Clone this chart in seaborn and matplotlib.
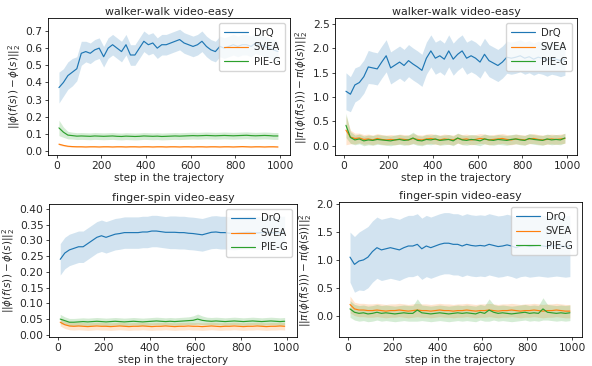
"""2x2 grid: representation / policy distance under video-easy distraction."""

import matplotlib
matplotlib.use('Agg')
import matplotlib.pyplot as plt
import numpy as np
import pandas as pd
import seaborn as sns

# ── Data ──────────────────────────────────────────────────────────────────
STEPS = list(range(10, 1000, 20))
METHODS = ['DrQ', 'SVEA', 'PIE-G']
COLORS = ['#1f77b4', '#ff7f0e', '#2ca02c']

# walker-walk, ||phi(f(s)) - phi(s)||
ww_phi_drq = [0.37, 0.40, 0.44, 0.46, 0.48, 0.57, 0.58, 0.57, 0.59, 0.60,
              0.55, 0.60, 0.62, 0.60, 0.58, 0.62, 0.56, 0.56, 0.60, 0.64,
              0.62, 0.63, 0.60, 0.62, 0.62, 0.63, 0.64, 0.65, 0.63, 0.62,
              0.61, 0.62, 0.64, 0.61, 0.59, 0.58, 0.61, 0.60, 0.61, 0.62,
              0.61, 0.62, 0.62, 0.61, 0.63, 0.62, 0.61, 0.60, 0.59, 0.58]
ww_phi_drq_sd = [0.09, 0.08, 0.08, 0.08, 0.07, 0.07, 0.06, 0.06, 0.06, 0.06,
                 0.06, 0.06, 0.06, 0.06, 0.06, 0.06, 0.06, 0.06, 0.06, 0.06,
                 0.06, 0.06, 0.06, 0.06, 0.06, 0.06, 0.06, 0.06, 0.06, 0.06,
                 0.06, 0.06, 0.06, 0.06, 0.06, 0.06, 0.06, 0.06, 0.06, 0.06,
                 0.06, 0.06, 0.06, 0.06, 0.06, 0.06, 0.06, 0.06, 0.06, 0.06]
ww_phi_svea = [0.040, 0.033, 0.028, 0.026, 0.025, 0.025, 0.024, 0.025, 0.025, 0.024,
               0.025, 0.025, 0.024, 0.025, 0.025, 0.024, 0.025, 0.025, 0.024, 0.025,
               0.025, 0.024, 0.025, 0.025, 0.024, 0.025, 0.025, 0.024, 0.025, 0.025,
               0.024, 0.025, 0.025, 0.024, 0.025, 0.025, 0.024, 0.025, 0.025, 0.024,
               0.025, 0.026, 0.025, 0.024, 0.025, 0.025, 0.024, 0.025, 0.025, 0.024]
ww_phi_svea_sd = [0.006, 0.005, 0.004, 0.004, 0.004, 0.004, 0.004, 0.004, 0.004, 0.004,
                  0.004, 0.004, 0.004, 0.004, 0.004, 0.004, 0.004, 0.004, 0.004, 0.004,
                  0.004, 0.004, 0.004, 0.004, 0.004, 0.004, 0.004, 0.004, 0.004, 0.004,
                  0.004, 0.004, 0.004, 0.004, 0.004, 0.004, 0.004, 0.004, 0.004, 0.004,
                  0.004, 0.004, 0.004, 0.004, 0.004, 0.004, 0.004, 0.004, 0.004, 0.004]
ww_phi_pieg = [0.135, 0.110, 0.093, 0.090, 0.087, 0.088, 0.087, 0.086, 0.088, 0.087,
               0.086, 0.087, 0.088, 0.086, 0.085, 0.087, 0.086, 0.085, 0.086, 0.088,
               0.087, 0.086, 0.087, 0.085, 0.086, 0.087, 0.088, 0.087, 0.088, 0.089,
               0.090, 0.089, 0.090, 0.091, 0.090, 0.089, 0.090, 0.091, 0.090, 0.089,
               0.090, 0.091, 0.092, 0.090, 0.089, 0.090, 0.091, 0.090, 0.088, 0.088]
ww_phi_pieg_sd = [0.045, 0.030, 0.022, 0.020, 0.020, 0.020, 0.020, 0.020, 0.020, 0.020,
                  0.020, 0.020, 0.020, 0.020, 0.020, 0.020, 0.020, 0.020, 0.020, 0.020,
                  0.020, 0.020, 0.020, 0.020, 0.020, 0.020, 0.020, 0.020, 0.020, 0.020,
                  0.020, 0.020, 0.020, 0.020, 0.020, 0.020, 0.020, 0.020, 0.020, 0.020,
                  0.020, 0.020, 0.020, 0.020, 0.020, 0.020, 0.020, 0.020, 0.020, 0.020]

# walker-walk, ||pi(phi(f(s))) - pi(phi(s))||
ww_pi_drq = [1.12, 1.06, 1.25, 1.30, 1.42, 1.62, 1.60, 1.58, 1.72, 1.85,
             1.60, 1.66, 1.72, 1.65, 1.75, 1.68, 1.62, 1.55, 1.80, 1.95,
             1.80, 1.85, 1.78, 1.95, 1.78, 1.88, 1.95, 1.80, 1.85, 1.80,
             1.72, 1.88, 1.75, 1.70, 1.65, 1.72, 1.82, 1.80, 1.82, 1.85,
             1.80, 1.83, 1.78, 1.82, 1.80, 1.76, 1.80, 1.78, 1.75, 1.78]
ww_pi_drq_sd = [0.38, 0.36, 0.35, 0.34, 0.34, 0.34, 0.33, 0.33, 0.33, 0.33,
                0.33, 0.33, 0.33, 0.33, 0.33, 0.33, 0.33, 0.33, 0.33, 0.33,
                0.33, 0.33, 0.33, 0.33, 0.33, 0.33, 0.33, 0.33, 0.33, 0.33,
                0.33, 0.33, 0.33, 0.33, 0.33, 0.33, 0.33, 0.33, 0.33, 0.33,
                0.33, 0.33, 0.33, 0.33, 0.33, 0.33, 0.33, 0.33, 0.33, 0.33]
ww_pi_svea = [0.32, 0.18, 0.15, 0.16, 0.13, 0.14, 0.12, 0.15, 0.13, 0.12,
              0.13, 0.12, 0.14, 0.13, 0.12, 0.15, 0.13, 0.12, 0.14, 0.15,
              0.13, 0.12, 0.14, 0.13, 0.12, 0.15, 0.13, 0.14, 0.12, 0.13,
              0.15, 0.14, 0.12, 0.13, 0.14, 0.15, 0.13, 0.12, 0.14, 0.13,
              0.12, 0.14, 0.15, 0.13, 0.12, 0.13, 0.14, 0.13, 0.14, 0.15]
ww_pi_svea_sd = [0.30, 0.14, 0.11, 0.10, 0.10, 0.10, 0.10, 0.10, 0.10, 0.10,
                 0.10, 0.10, 0.10, 0.10, 0.10, 0.10, 0.10, 0.10, 0.10, 0.10,
                 0.10, 0.10, 0.10, 0.10, 0.10, 0.10, 0.10, 0.10, 0.10, 0.10,
                 0.10, 0.10, 0.10, 0.10, 0.10, 0.10, 0.10, 0.10, 0.10, 0.10,
                 0.10, 0.10, 0.10, 0.10, 0.10, 0.10, 0.10, 0.10, 0.10, 0.10]
ww_pi_pieg = [0.42, 0.17, 0.12, 0.14, 0.10, 0.12, 0.11, 0.13, 0.12, 0.11,
              0.10, 0.12, 0.13, 0.11, 0.12, 0.16, 0.11, 0.10, 0.13, 0.12,
              0.14, 0.11, 0.12, 0.13, 0.10, 0.16, 0.12, 0.11, 0.13, 0.12,
              0.10, 0.14, 0.12, 0.11, 0.13, 0.12, 0.11, 0.13, 0.14, 0.12,
              0.11, 0.15, 0.13, 0.12, 0.11, 0.14, 0.12, 0.13, 0.12, 0.16]
ww_pi_pieg_sd = [0.25, 0.12, 0.10, 0.10, 0.10, 0.10, 0.10, 0.10, 0.10, 0.10,
                 0.10, 0.10, 0.10, 0.10, 0.10, 0.12, 0.10, 0.10, 0.10, 0.10,
                 0.10, 0.10, 0.10, 0.10, 0.10, 0.10, 0.10, 0.10, 0.10, 0.10,
                 0.10, 0.10, 0.10, 0.10, 0.10, 0.10, 0.10, 0.10, 0.10, 0.10,
                 0.10, 0.10, 0.10, 0.10, 0.10, 0.10, 0.10, 0.10, 0.10, 0.10]

# finger-spin, ||phi(f(s)) - phi(s)||
fs_phi_drq = [0.240, 0.260, 0.270, 0.275, 0.280, 0.280, 0.290, 0.300, 0.310, 0.315,
              0.310, 0.315, 0.320, 0.322, 0.325, 0.325, 0.325, 0.325, 0.327, 0.327,
              0.330, 0.330, 0.328, 0.326, 0.326, 0.326, 0.325, 0.325, 0.323, 0.322,
              0.320, 0.318, 0.322, 0.326, 0.327, 0.325, 0.325, 0.323, 0.322, 0.324,
              0.325, 0.326, 0.325, 0.324, 0.325, 0.326, 0.325, 0.324, 0.325, 0.325]
fs_phi_drq_sd = [0.050, 0.050, 0.050, 0.050, 0.050, 0.050, 0.050, 0.050, 0.050, 0.050,
                 0.050, 0.050, 0.050, 0.050, 0.050, 0.050, 0.050, 0.050, 0.050, 0.050,
                 0.050, 0.050, 0.050, 0.050, 0.052, 0.052, 0.052, 0.052, 0.052, 0.052,
                 0.052, 0.052, 0.052, 0.052, 0.052, 0.052, 0.052, 0.052, 0.052, 0.052,
                 0.052, 0.052, 0.052, 0.052, 0.052, 0.052, 0.052, 0.052, 0.052, 0.052]
fs_phi_svea = [0.040, 0.032, 0.028, 0.027, 0.028, 0.027, 0.026, 0.027, 0.028, 0.027,
               0.027, 0.026, 0.027, 0.028, 0.027, 0.026, 0.027, 0.027, 0.028, 0.027,
               0.026, 0.027, 0.027, 0.028, 0.027, 0.026, 0.027, 0.027, 0.028, 0.027,
               0.027, 0.026, 0.027, 0.028, 0.027, 0.026, 0.027, 0.027, 0.028, 0.027,
               0.026, 0.027, 0.027, 0.028, 0.027, 0.026, 0.027, 0.027, 0.028, 0.027]
fs_phi_svea_sd = [0.012, 0.012, 0.012, 0.012, 0.012, 0.012, 0.012, 0.012, 0.012, 0.012,
                  0.012, 0.012, 0.012, 0.012, 0.012, 0.012, 0.012, 0.012, 0.012, 0.012,
                  0.012, 0.012, 0.012, 0.012, 0.012, 0.012, 0.012, 0.012, 0.012, 0.012,
                  0.012, 0.012, 0.012, 0.012, 0.012, 0.012, 0.012, 0.012, 0.012, 0.012,
                  0.012, 0.012, 0.012, 0.012, 0.012, 0.012, 0.012, 0.012, 0.012, 0.012]
fs_phi_pieg = [0.050, 0.045, 0.040, 0.040, 0.041, 0.042, 0.041, 0.042, 0.043, 0.042,
               0.041, 0.042, 0.043, 0.042, 0.041, 0.042, 0.043, 0.042, 0.041, 0.042,
               0.043, 0.044, 0.043, 0.042, 0.043, 0.042, 0.043, 0.044, 0.045, 0.046,
               0.050, 0.046, 0.044, 0.043, 0.044, 0.043, 0.042, 0.043, 0.044, 0.043,
               0.042, 0.043, 0.044, 0.043, 0.042, 0.043, 0.044, 0.043, 0.042, 0.043]
fs_phi_pieg_sd = [0.015, 0.012, 0.012, 0.012, 0.012, 0.012, 0.012, 0.012, 0.012, 0.012,
                  0.012, 0.012, 0.012, 0.012, 0.012, 0.012, 0.012, 0.012, 0.012, 0.012,
                  0.012, 0.012, 0.012, 0.012, 0.012, 0.012, 0.012, 0.012, 0.012, 0.014,
                  0.016, 0.014, 0.012, 0.012, 0.012, 0.012, 0.012, 0.012, 0.012, 0.012,
                  0.012, 0.012, 0.012, 0.012, 0.012, 0.012, 0.012, 0.012, 0.012, 0.012]

# finger-spin, ||pi(phi(f(s))) - pi(phi(s))||
fs_pi_drq = [1.05, 0.92, 0.98, 1.00, 1.05, 1.15, 1.22, 1.18, 1.20, 1.22,
             1.20, 1.18, 1.22, 1.25, 1.25, 1.28, 1.20, 1.25, 1.22, 1.25,
             1.28, 1.30, 1.30, 1.28, 1.28, 1.25, 1.28, 1.26, 1.25, 1.26,
             1.25, 1.28, 1.26, 1.24, 1.25, 1.27, 1.25, 1.22, 1.25, 1.26,
             1.24, 1.25, 1.26, 1.25, 1.24, 1.25, 1.26, 1.25, 1.24, 1.25]
fs_pi_drq_sd = [0.45, 0.50, 0.52, 0.55, 0.55, 0.55, 0.55, 0.55, 0.55, 0.55,
                0.55, 0.55, 0.55, 0.55, 0.55, 0.55, 0.55, 0.55, 0.55, 0.55,
                0.55, 0.55, 0.55, 0.55, 0.55, 0.55, 0.55, 0.55, 0.55, 0.55,
                0.55, 0.55, 0.55, 0.55, 0.55, 0.55, 0.55, 0.55, 0.55, 0.55,
                0.55, 0.55, 0.55, 0.55, 0.55, 0.55, 0.55, 0.55, 0.55, 0.55]
fs_pi_svea = [0.20, 0.12, 0.10, 0.10, 0.09, 0.09, 0.10, 0.09, 0.08, 0.09,
              0.09, 0.10, 0.09, 0.08, 0.09, 0.10, 0.09, 0.09, 0.08, 0.09,
              0.10, 0.09, 0.09, 0.08, 0.09, 0.09, 0.10, 0.09, 0.08, 0.09,
              0.09, 0.10, 0.09, 0.08, 0.09, 0.09, 0.10, 0.09, 0.08, 0.09,
              0.09, 0.10, 0.09, 0.08, 0.09, 0.09, 0.10, 0.09, 0.08, 0.08]
fs_pi_svea_sd = [0.15, 0.12, 0.12, 0.12, 0.12, 0.12, 0.12, 0.12, 0.12, 0.12,
                 0.12, 0.12, 0.12, 0.12, 0.12, 0.12, 0.12, 0.12, 0.12, 0.12,
                 0.12, 0.12, 0.12, 0.12, 0.12, 0.12, 0.12, 0.12, 0.12, 0.12,
                 0.12, 0.12, 0.12, 0.12, 0.12, 0.12, 0.12, 0.12, 0.12, 0.12,
                 0.12, 0.12, 0.12, 0.12, 0.12, 0.12, 0.12, 0.12, 0.12, 0.12]
fs_pi_pieg = [0.12, 0.06, 0.04, 0.05, 0.03, 0.04, 0.06, 0.04, 0.05, 0.04,
              0.03, 0.04, 0.05, 0.04, 0.04, 0.10, 0.05, 0.04, 0.03, 0.04,
              0.05, 0.04, 0.03, 0.04, 0.05, 0.04, 0.05, 0.04, 0.03, 0.06,
              0.04, 0.10, 0.06, 0.04, 0.05, 0.04, 0.03, 0.04, 0.05, 0.06,
              0.04, 0.05, 0.04, 0.12, 0.06, 0.05, 0.04, 0.05, 0.04, 0.05]
fs_pi_pieg_sd = [0.15, 0.14, 0.14, 0.14, 0.14, 0.14, 0.14, 0.14, 0.14, 0.14,
                 0.14, 0.14, 0.14, 0.14, 0.14, 0.20, 0.14, 0.14, 0.14, 0.14,
                 0.14, 0.14, 0.14, 0.14, 0.14, 0.14, 0.14, 0.14, 0.14, 0.14,
                 0.14, 0.20, 0.14, 0.14, 0.14, 0.14, 0.14, 0.14, 0.14, 0.14,
                 0.14, 0.14, 0.14, 0.20, 0.14, 0.14, 0.14, 0.14, 0.14, 0.14]

YLAB_PHI = r'$||\phi(f(s)) - \phi(s)||_2^2$'
YLAB_PI = r'$||\pi(\phi(f(s))) - \pi(\phi(s))||_2^2$'

PANELS = [
    dict(title='walker-walk video-easy', ylabel=YLAB_PHI,
         means=[ww_phi_drq, ww_phi_svea, ww_phi_pieg],
         sds=[ww_phi_drq_sd, ww_phi_svea_sd, ww_phi_pieg_sd],
         pos=[48, 18.3, 290, 155], ylim=(-0.023, 0.774),
         yticks=[0.0, 0.1, 0.2, 0.3, 0.4, 0.5, 0.6, 0.7], fmt='{:.1f}'),
    dict(title='walker-walk video-easy', ylabel=YLAB_PI,
         means=[ww_pi_drq, ww_pi_svea, ww_pi_pieg],
         sds=[ww_pi_drq_sd, ww_pi_svea_sd, ww_pi_pieg_sd],
         pos=[335, 18.3, 577, 155], ylim=(-0.19, 2.62),
         yticks=[0.0, 0.5, 1.0, 1.5, 2.0, 2.5], fmt='{:.1f}'),
    dict(title='finger-spin video-easy', ylabel=YLAB_PHI,
         means=[fs_phi_drq, fs_phi_svea, fs_phi_pieg],
         sds=[fs_phi_drq_sd, fs_phi_svea_sd, fs_phi_pieg_sd],
         pos=[49, 204, 297, 337.3], ylim=(-0.008, 0.416),
         yticks=[0.0, 0.05, 0.10, 0.15, 0.20, 0.25, 0.30, 0.35, 0.40], fmt='{:.2f}'),
    dict(title='finger-spin video-easy', ylabel=YLAB_PI,
         means=[fs_pi_drq, fs_pi_svea, fs_pi_pieg],
         sds=[fs_pi_drq_sd, fs_pi_svea_sd, fs_pi_pieg_sd],
         pos=[339, 202.3, 582, 337.3], ylim=(-0.39, 2.035),
         yticks=[0.0, 0.5, 1.0, 1.5, 2.0], fmt='{:.1f}'),
]

W, H = 592, 366
FS = 7.7

sns.set_style('ticks')
plt.rcParams.update({
    'font.family': ['DejaVu Sans'],
    'font.size': FS,
    'axes.titlesize': FS + 0.2,
    'axes.labelsize': FS - 0.2,
    'xtick.labelsize': FS,
    'ytick.labelsize': FS,
    'legend.fontsize': 7.2,
    'axes.linewidth': 0.6,
    'xtick.major.width': 0.6,
    'ytick.major.width': 0.6,
    'xtick.major.size': 2.0,
    'ytick.major.size': 2.0,
    'xtick.major.pad': 2.0,
    'ytick.major.pad': 2.0,
    'axes.edgecolor': 'black',
    'mathtext.fontset': 'dejavusans',
})

fig = plt.figure(figsize=(W / 100, H / 100), dpi=100)

for p in PANELS:
    x0, y0, x1, y1 = p['pos']
    ax = fig.add_axes([x0 / W, 1 - y1 / H, (x1 - x0) / W, (y1 - y0) / H])

    frames = []
    for name, mean in zip(METHODS, p['means']):
        frames.append(pd.DataFrame({'step': STEPS, 'value': mean, 'method': name}))
    df = pd.concat(frames, ignore_index=True)

    # shaded spread behind the mean curves
    for mean, sd, c in zip(p['means'], p['sds'], COLORS):
        m = np.array(mean)
        s = np.array(sd)
        ax.fill_between(STEPS, m - s, m + s, color=c, alpha=0.2, linewidth=0)

    sns.lineplot(data=df, x='step', y='value', hue='method', hue_order=METHODS,
                 palette=COLORS, linewidth=0.85, ax=ax)

    ax.set_xlim(-39, 1044)
    ax.set_ylim(*p['ylim'])
    ax.set_xticks([0, 200, 400, 600, 800, 1000])
    ax.set_yticks(p['yticks'])
    ax.set_yticklabels([p['fmt'].format(v) for v in p['yticks']])
    ax.set_title(p['title'], pad=2.5)
    ax.set_xlabel('step in the trajectory', labelpad=1.5)
    ax.set_ylabel(p['ylabel'], labelpad=2)
    ax.legend(loc='upper right', frameon=True, framealpha=0.8,
              edgecolor='0.8', fancybox=True, handlelength=2.4,
              handletextpad=0.6, borderpad=0.45, labelspacing=0.45)
    for sp in ax.spines.values():
        sp.set_visible(True)

fig.savefig('out.png', dpi=100)
